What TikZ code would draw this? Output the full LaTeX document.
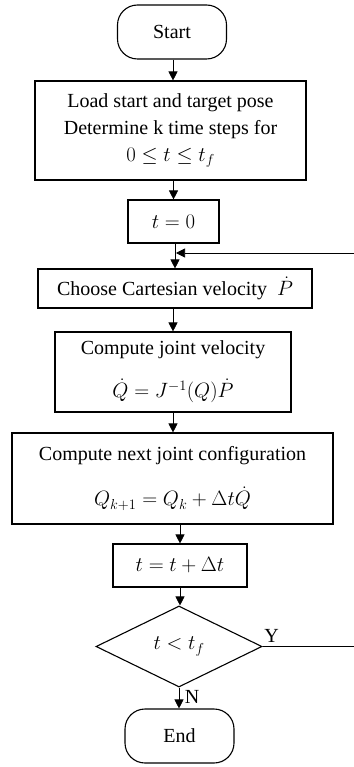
\documentclass[tikz,border=0pt]{standalone}
\usepackage{fontspec}
\setmainfont{Liberation Serif}
\usetikzlibrary{arrows.meta,shapes.geometric}
\newcommand{\mfs}{\fontsize{21.5}{27}\selectfont}
\begin{document}
\begin{tikzpicture}[x=1pt,y=-1pt,
  box/.style={draw,line width=1.1pt,align=center,inner sep=0pt,font=\fontsize{20}{27}\selectfont},
  term/.style={box,rounded corners=20pt},
  arr/.style={-{Triangle[length=9pt,width=9pt]},line width=0.7pt},
  lab/.style={inner sep=0pt,font=\fontsize{20}{24}\selectfont}]
\useasboundingbox (0,0) rectangle (353,767);
\node[term,minimum width=109pt,minimum height=54pt] (start) at (172,32) {Start};
\node[box,minimum width=271pt,minimum height=99pt] (load) at (170.5,130.5) {Load start and target pose\\Determine k time steps for\\{\mfs$0\le t\le t_f$}};
\node[box,minimum width=91pt,minimum height=43pt] (t0) at (173.5,221.5) {\mfs$t=0$};
\node[box,minimum width=274pt,minimum height=39pt] (choose) at (175,288.5) {Choose Cartesian velocity\ \ {\mfs$\dot P$}};
\node[box,minimum width=236pt,minimum height=80pt] (cjv) at (173,372) {Compute joint velocity\\[16pt]{\mfs$\dot Q = J^{-1}(Q)\dot P$}};
\node[box,minimum width=321pt,minimum height=91pt] (cnj) at (172.5,478.5) {Compute next joint configuration\\[18pt]{\mfs$Q_{k+1}=Q_k+\Delta t\dot Q$}};
\node[box,minimum width=134pt,minimum height=43pt] (tinc) at (180,565.5) {\mfs$t=t+\Delta t$};
\node[box,diamond,minimum width=166pt,minimum height=81pt] (dec) at (179,646.5) {\mfs$t<t_f$};
\node[term,minimum width=109pt,minimum height=54pt] (end) at (179.5,736) {End};
\node[lab] (ylab) at (271.5,636) {Y};
\node[lab] (nlab) at (192,697) {N};
\coordinate (merge) at (176,253);
\coordinate (rt) at (356,0);
\draw[arr] (start.south -| 173,0) -- (load.north -| 173,0);
\draw[arr] (load.south -| t0.north) -- (t0.north);
\draw[arr] (t0.south -| choose.north) -- (choose.north);
\draw[arr] (choose.south -| cjv.north) -- (cjv.north);
\draw[arr] (cjv.south) -- (cjv.south |- cnj.north);
\draw[arr] (cnj.south -| tinc.north) -- (tinc.north);
\draw[arr] (tinc.south) -- (tinc.south |- dec.north);
\draw[arr] (dec.south) -- (dec.south |- end.north);
\draw[arr] (dec.east) -- (dec.east -| rt) -- (rt |- merge) -- (merge);
\end{tikzpicture}
\end{document}
